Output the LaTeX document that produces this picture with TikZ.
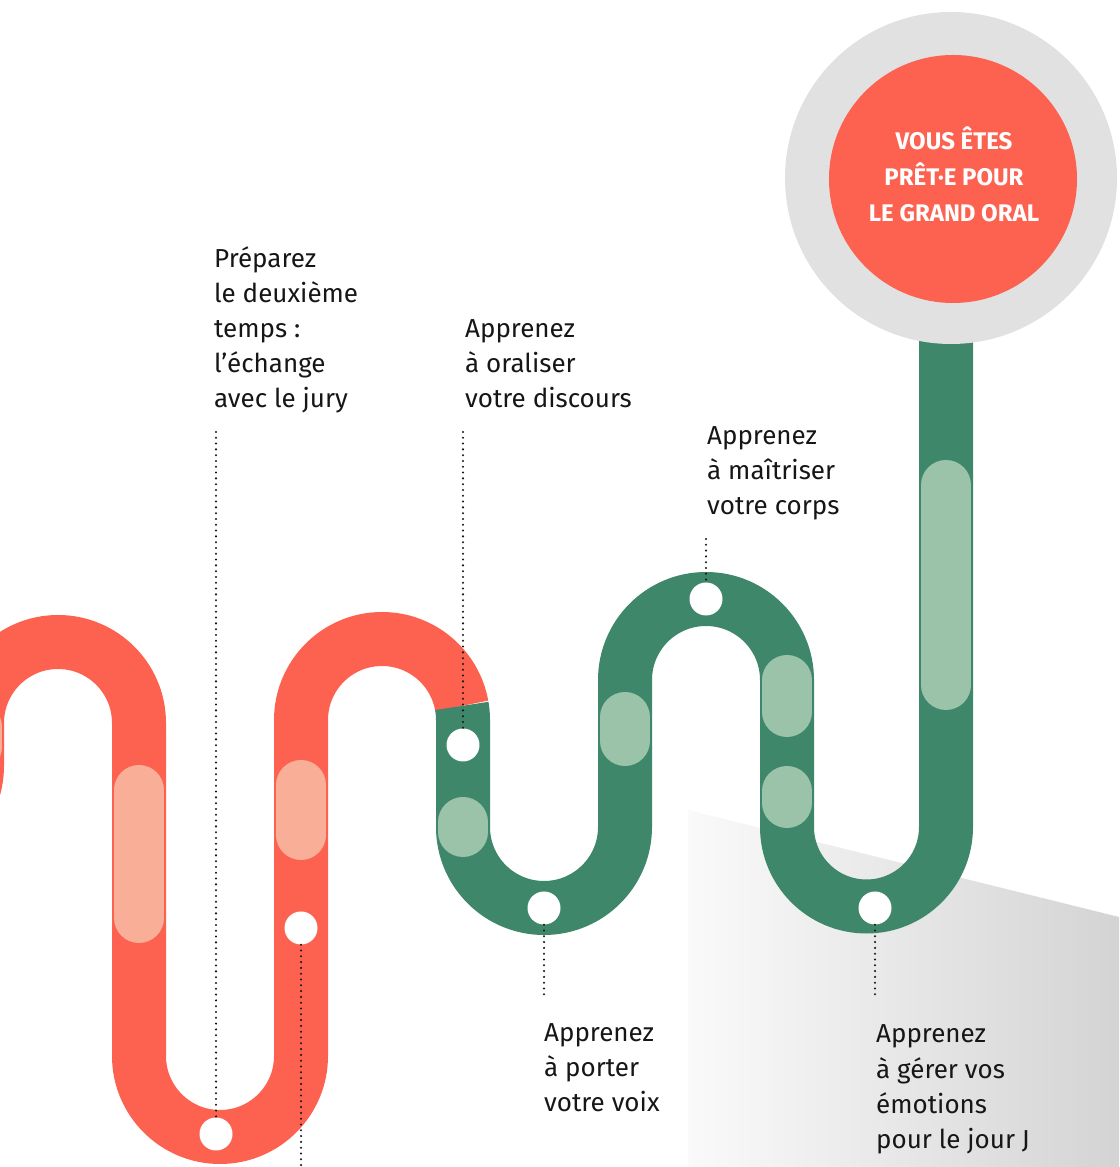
\documentclass[tikz,border=0pt]{standalone}
\usepackage{fontspec}
\setmainfont{Fira Sans}
\usetikzlibrary{calc}
\definecolor{trackred}{HTML}{FD6251}
\definecolor{pillred}{HTML}{F9AE97}
\definecolor{trackgreen}{HTML}{3F876A}
\definecolor{pillgreen}{HTML}{9AC3AA}
\definecolor{ringgrey}{HTML}{E1E1E1}
\definecolor{ink}{HTML}{161616}
\begin{document}
\begin{tikzpicture}[x=1pt,y=1pt,
  track/.style={line width=54pt},
  pill/.style={line width=50pt, line cap=round},
  stopdot/.style={circle, fill=white, minimum size=33pt, inner sep=0pt},
  leader/.style={line width=2.3pt, line cap=round, dash pattern=on 0pt off 5.8pt, draw=ink},
  steplabel/.style={anchor=base west, align=left, inner sep=0pt, font=\fontsize{26}{35}\selectfont, text=ink}
]
\useasboundingbox (0,0) rectangle (1119,1167);
\begin{scope}
\clip (0,0) rectangle (1119,1167);
% grey floor
\shade[left color=black!2, right color=black!17] (688,357) -- (1119,250) -- (1119,0) -- (688,0) -- cycle;
% red track
\draw[track, trackred] (-185,520) -- (-185,401)
  arc[start angle=180, end angle=360, radius=81] -- (-23,444)
  arc[start angle=180, end angle=0, radius=81] -- (139,111)
  arc[start angle=180, end angle=360, radius=81] -- (301,447)
  arc[start angle=180, end angle=10, radius=81];
% green track
\draw[track, trackgreen] ($(382,447)+(10:81)$)
  arc[start angle=10, end angle=0, radius=81] -- (463,340)
  arc[start angle=180, end angle=360, radius=81] -- (625,487)
  arc[start angle=180, end angle=0, radius=81] -- (787,340)
  arc[start angle=180, end angle=360, radius=79.5] -- (946,990);
% pills
\draw[pill, pillred] (-23,420) -- (-23,440);
\draw[pill, pillred] (139,377) -- (139,249);
\draw[pill, pillred] (301,382) -- (301,332);
\draw[pill, pillgreen] (463,345) -- (463,335);
\draw[pill, pillgreen] (625,450) -- (625,426);
\draw[pill, pillgreen] (787,487) -- (787,455);
\draw[pill, pillgreen] (787,376) -- (787,364);
\draw[pill, pillgreen] (946,682) -- (946,482);
\end{scope}
% goal
\node[circle, fill=ringgrey, minimum size=332pt, inner sep=0pt] (ring) at (951,989) {};
\node[circle, fill=trackred, minimum size=248pt, inner sep=0pt] (goal) at (953,988) {};
\node[align=center, text=white, inner sep=0pt,
  font=\fontsize{24}{36}\selectfont\bfseries] (goaltext) at (954,993) {VOUS ÊTES\\PRÊT·E POUR\\LE GRAND ORAL};
% stops
\node[stopdot] (s1) at (216,33) {};
\node[stopdot] (s2) at (301,239) {};
\node[stopdot] (s3) at (463,422) {};
\node[stopdot] (s4) at (544,259) {};
\node[stopdot] (s5) at (706,568) {};
\node[stopdot] (s6) at (875,259) {};
% labels (anchored at the baseline of their last line)
\node[steplabel] (l1) at (214,759) {Préparez\\le deuxième\\temps :\\l’échange\\avec le jury};
\node[steplabel] (l2) at (465,759) {Apprenez\\à oraliser\\votre discours};
\node[steplabel] (l3) at (707,652) {Apprenez\\à maîtriser\\votre corps};
\node[steplabel] (l4) at (544,55) {Apprenez\\à porter\\votre voix};
\node[steplabel] (l5) at (876,19) {Apprenez\\à gérer vos\\émotions\\pour le jour J};
% leaders
\coordinate (e1) at (216,735);
\coordinate (e2) at (301,0);
\coordinate (e3) at (463,735);
\coordinate (e4) at (544,169);
\coordinate (e5) at (706,628);
\coordinate (e6) at (875,167);
\draw[leader] (e1) -- (s1.north);
\draw[leader] (s2.south) -- (e2);
\draw[leader] (e3) -- (s3.north);
\draw[leader] (s4.south) -- (e4);
\draw[leader] (e5) -- (s5.north);
\draw[leader] (s6.south) -- (e6);
\end{tikzpicture}
\end{document}
